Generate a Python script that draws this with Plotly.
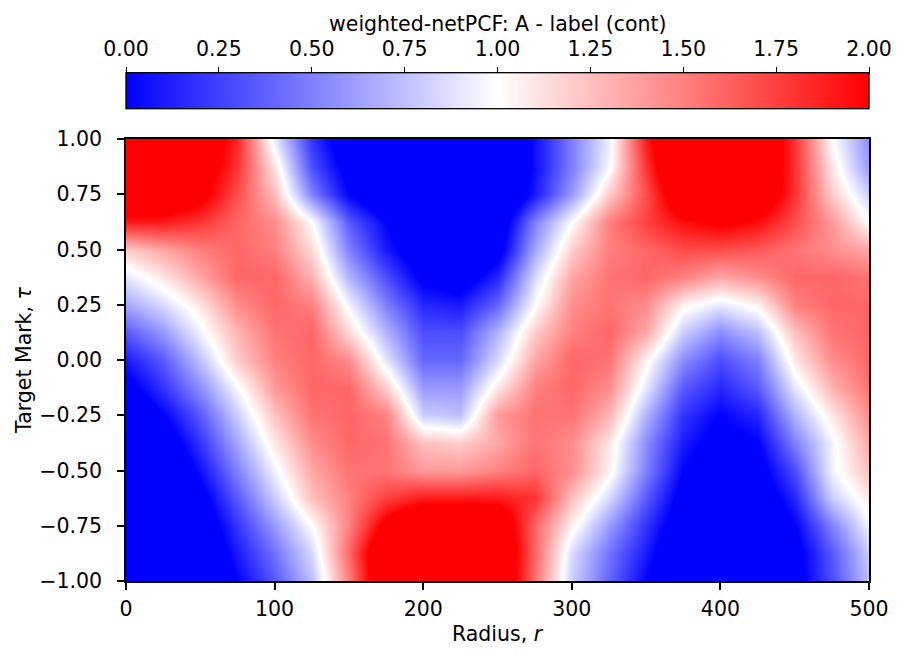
import plotly.graph_objects as go

# Radius grid (r) and target-mark grid (tau)
radius = [0, 25, 50, 75, 100, 125, 150, 175, 200, 225, 250, 275, 300, 325, 350, 375, 400, 425, 450, 475, 500]
tau = [1.0, 0.875, 0.75, 0.625, 0.5, 0.375, 0.25, 0.125, 0.0, -0.125, -0.25, -0.375, -0.5, -0.625, -0.75, -0.875, -1.0]

# weighted-netPCF values, one row per tau (top to bottom)
row_p1000 = [2.5, 2.5, 2.3, 1.85, 0.9, 0.2, -0.2, -0.4, -0.5, -0.5, -0.4, 0.05, 0.5, 0.93, 1.9, 2.5, 2.6, 2.4, 1.8, 1.0, 0.55]
row_p0875 = [2.5, 2.5, 2.2, 1.8, 1.1, 0.3, -0.1, -0.4, -0.5, -0.5, -0.4, 0.05, 0.5, 0.97, 1.8, 2.5, 2.6, 2.4, 1.8, 1.1, 0.6]
row_p0750 = [2.3, 2.3, 2.1, 1.7, 1.25, 0.5, 0.0, -0.3, -0.5, -0.5, -0.4, 0.1, 0.6, 1.2, 1.7, 2.3, 2.5, 2.3, 1.8, 1.2, 0.8]
row_p0625 = [1.9, 1.9, 1.8, 1.6, 1.45, 1.0, 0.35, 0.0, -0.3, -0.4, -0.2, 0.5, 1.0, 1.5, 1.75, 1.95, 2.05, 1.95, 1.7, 1.4, 1.0]
row_p0500 = [1.2, 1.35, 1.5, 1.6, 1.5, 1.15, 0.5, 0.1, -0.2, -0.3, -0.1, 0.65, 1.2, 1.5, 1.6, 1.7, 1.7, 1.65, 1.55, 1.45, 1.35]
row_p0375 = [0.9, 1.1, 1.35, 1.6, 1.6, 1.3, 0.7, 0.3, -0.05, -0.15, 0.15, 0.85, 1.35, 1.55, 1.6, 1.5, 1.35, 1.45, 1.6, 1.6, 1.55]
row_p0250 = [0.65, 0.85, 1.1, 1.45, 1.6, 1.5, 0.95, 0.5, 0.15, 0.1, 0.4, 1.0, 1.45, 1.55, 1.45, 1.05, 0.9, 1.05, 1.5, 1.6, 1.6]
row_p0125 = [0.35, 0.6, 0.95, 1.3, 1.55, 1.6, 1.15, 0.7, 0.3, 0.3, 0.7, 1.2, 1.5, 1.6, 1.35, 0.8, 0.55, 0.75, 1.25, 1.55, 1.6]
row_z0000 = [0.1, 0.35, 0.75, 1.2, 1.5, 1.6, 1.45, 0.9, 0.4, 0.4, 0.85, 1.35, 1.6, 1.55, 1.05, 0.55, 0.3, 0.5, 1.1, 1.45, 1.6]
row_m0125 = [-0.1, 0.2, 0.55, 0.97, 1.4, 1.6, 1.6, 1.2, 0.6, 0.6, 1.1, 1.5, 1.6, 1.45, 0.9, 0.35, 0.15, 0.35, 0.9, 1.3, 1.55]
row_m0250 = [-0.3, 0.0, 0.35, 0.8, 1.25, 1.55, 1.6, 1.5, 0.8, 0.75, 1.4, 1.55, 1.55, 1.3, 0.7, 0.2, 0.0, 0.15, 0.7, 1.1, 1.45]
row_m0375 = [-0.4, -0.2, 0.2, 0.65, 1.1, 1.45, 1.6, 1.55, 1.25, 1.2, 1.35, 1.55, 1.45, 1.1, 0.55, 0.1, -0.1, 0.0, 0.5, 0.95, 1.35]
row_m0500 = [-0.5, -0.3, 0.05, 0.5, 0.95, 1.35, 1.55, 1.55, 1.4, 1.4, 1.5, 1.6, 1.45, 1.05, 0.5, 0.0, -0.2, -0.1, 0.3, 0.95, 1.25]
row_m0625 = [-0.5, -0.4, -0.1, 0.35, 0.8, 1.25, 1.5, 1.75, 1.9, 1.9, 1.9, 1.8, 1.25, 0.85, 0.35, -0.1, -0.3, -0.2, 0.15, 0.8, 1.1]
row_m0750 = [-0.5, -0.5, -0.2, 0.2, 0.6, 1.0, 1.5, 2.1, 2.4, 2.4, 2.3, 1.6, 1.05, 0.6, 0.2, -0.2, -0.4, -0.3, 0.0, 0.5, 0.95]
row_m0875 = [-0.5, -0.5, -0.3, 0.1, 0.45, 0.85, 1.6, 2.4, 2.6, 2.6, 2.4, 1.6, 0.85, 0.45, 0.1, -0.3, -0.5, -0.4, -0.1, 0.35, 0.8]
row_m1000 = [-0.5, -0.5, -0.4, 0.0, 0.35, 0.75, 1.5, 2.4, 2.6, 2.6, 2.4, 1.55, 0.8, 0.4, 0.0, -0.3, -0.5, -0.4, -0.1, 0.3, 0.75]

rows = [row_p1000, row_p0875, row_p0750, row_p0625, row_p0500, row_p0375, row_p0250, row_p0125,
        row_z0000, row_m0125, row_m0250, row_m0375, row_m0500, row_m0625, row_m0750, row_m0875, row_m1000]

x_ticks = [0, 100, 200, 300, 400, 500]
y_ticks = [-1.0, -0.75, -0.5, -0.25, 0.0, 0.25, 0.5, 0.75, 1.0]
cb_ticks = [0.0, 0.25, 0.5, 0.75, 1.0, 1.25, 1.5, 1.75, 2.0]
cb_range = [0.0, 2.0]

bwr = [[0.0, "rgb(0,0,255)"], [0.5, "rgb(255,255,255)"], [1.0, "rgb(255,0,0)"]]

FONT = "DejaVu Sans"
FS = 20.5

W, H = 907, 662
L, R, T, B = 126, 38, 0, 81
paper_h = H - T - B          # 581
plot_top_px = 139
cb_top_px, cb_bot_px = 74, 110


def py(px):
    """pixel row -> paper fraction (paper spans rows 0..581)"""
    return (H - B - px) / paper_h


fig = go.Figure(go.Heatmap(
    x=radius,
    y=tau[::-1],
    z=rows[::-1],
    zmin=cb_range[0], zmax=cb_range[1],
    zsmooth="best",
    colorscale=bwr,
    colorbar=dict(
        orientation="h",
        lenmode="pixels", len=W - L - R,
        thickness=cb_bot_px - cb_top_px,
        x=0.5, xanchor="center",
        y=py(cb_bot_px), yanchor="bottom",
        xpad=0, ypad=0,
        outlinecolor="black", outlinewidth=1.3,
        showticklabels=False, ticks="",
    ),
    hoverinfo="skip",
))

axis_common = dict(
    showline=True, mirror=True, linecolor="black", linewidth=1.5,
    ticks="outside", ticklen=7, tickwidth=1.5, tickcolor="black",
    showgrid=False, zeroline=False, automargin=False,
    tickfont=dict(family=FONT, size=FS, color="black"),
)

fig.update_layout(
    width=W, height=H,
    margin=dict(l=L, r=R, t=T, b=B, pad=0),
    paper_bgcolor="white", plot_bgcolor="white",
    font=dict(family=FONT, size=FS, color="black"),
    xaxis=dict(range=[0, 500], tickvals=x_ticks, ticklabelstandoff=2, **axis_common),
    yaxis=dict(range=[-1, 1], tickvals=y_ticks, tickformat=".2f", ticklabelstandoff=11,
               domain=[0, py(plot_top_px)], **axis_common),
    # colorbar tick axis drawn on top of the bar
    xaxis2=dict(
        overlaying="x", anchor="free", position=py(cb_top_px), side="top",
        range=cb_range, tickvals=cb_ticks, tickformat=".2f",
        ticks="outside", ticklen=7, tickwidth=1.3, tickcolor="black",
        ticklabelstandoff=3,
        showline=False, showgrid=False, zeroline=False, automargin=False,
        tickfont=dict(family=FONT, size=FS, color="black"),
    ),
    annotations=[
        dict(text="weighted-netPCF: A - label (cont)",
             xref="paper", yref="paper", x=0.5, y=py(24),
             xanchor="center", yanchor="middle", showarrow=False,
             font=dict(family=FONT, size=FS, color="black")),
        dict(text="Radius, <i>r</i>",
             xref="paper", yref="paper", x=0.5, y=py(634),
             xanchor="center", yanchor="middle", showarrow=False,
             font=dict(family=FONT, size=FS, color="black")),
        dict(text="Target Mark, <i>τ</i>",
             xref="paper", yref="paper", x=(24 - L) / (W - L - R), y=py(360),
             xanchor="center", yanchor="middle", showarrow=False, textangle=-90,
             font=dict(family=FONT, size=FS, color="black")),
    ],
)

# invisible anchor trace so the colorbar tick axis is rendered
fig.add_trace(go.Scatter(x=cb_range, y=[0, 0], xaxis="x2", yaxis="y", mode="markers",
                         marker=dict(opacity=0), showlegend=False, hoverinfo="skip"))

fig.write_html("out.html")
